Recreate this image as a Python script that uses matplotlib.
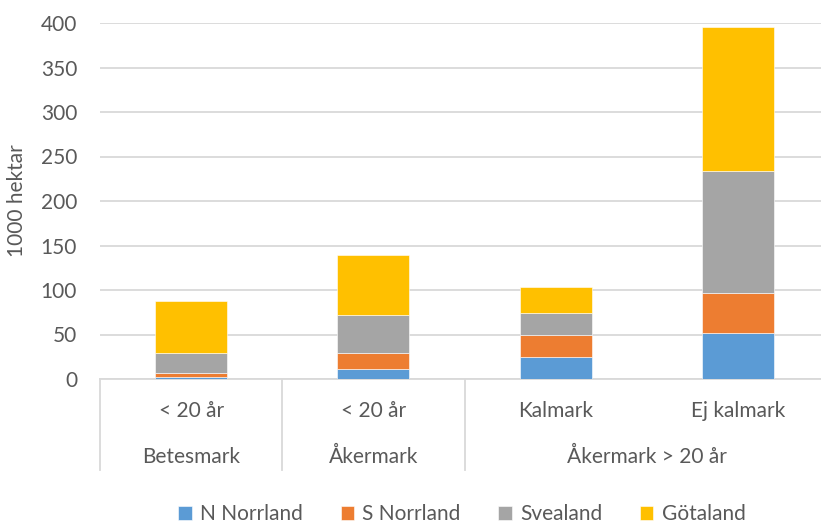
import matplotlib.pyplot as plt
import matplotlib.transforms as mtransforms
import numpy as np

plt.rcParams['font.family'] = ['Lato', 'DejaVu Sans']

# Categories (inner level / outer level)
inner_labels = ['< 20 år', '< 20 år', 'Kalmark', 'Ej kalmark']
outer_groups = [('Betesmark', 0, 0), ('Åkermark', 1, 1), ('Åkermark > 20 år', 2, 3)]

# Stacked values, 1000 hektar
n_norrland = [2.5, 11.5, 24.5, 51.5]
s_norrland = [4.5, 18.0, 25.0, 45.0]
svealand = [22.0, 42.5, 25.0, 137.0]
gotaland = [58.5, 67.5, 29.0, 162.0]

series = [('N Norrland', n_norrland, '#5B9BD5'),
          ('S Norrland', s_norrland, '#ED7D31'),
          ('Svealand', svealand, '#A5A5A5'),
          ('Götaland', gotaland, '#FFC000')]

text_color = '#595959'
grid_color = '#D9D9D9'
fs = 15

fig = plt.figure(figsize=(8.21, 5.23), dpi=100)
W, H = 821, 523
ax = fig.add_axes([100 / W, (H - 379) / H, 729 / W, 356 / H])

x = np.arange(len(inner_labels))
bottom = np.zeros(len(x))
for name, vals, color in series:
    ax.bar(x, vals, width=0.395, bottom=bottom, color=color, label=name,
           edgecolor='white', linewidth=0.4, zorder=3)
    bottom += np.array(vals)

ax.set_xlim(-0.5, len(x) - 0.5)
ax.set_ylim(0, 400)
ax.set_yticks(np.arange(0, 401, 50))
ax.yaxis.grid(True, color=grid_color, linewidth=1.3, zorder=0)
ax.tick_params(axis='y', length=0, pad=16.5, labelsize=fs, labelcolor=text_color)
ax.tick_params(axis='x', length=0, labelbottom=False)
for side in ['top', 'right', 'left']:
    ax.spines[side].set_visible(False)
ax.spines['bottom'].set_color(grid_color)
ax.spines['bottom'].set_linewidth(1.3)

ax.set_ylabel('1000 hektar', fontsize=fs, color=text_color)
ax.yaxis.set_label_coords(-0.1, 0.5)

# multi-level category axis
trans = mtransforms.blended_transform_factory(ax.transData, ax.transAxes)
for i, lab in enumerate(inner_labels):
    ax.text(i, -0.089, lab, transform=trans, ha='center', va='center',
            fontsize=fs, color=text_color)
for name, a, b in outer_groups:
    ax.text((a + b) / 2, -0.218, name, transform=trans, ha='center', va='center',
            fontsize=fs, color=text_color)
for xd in [-0.5, 0.5, 1.5]:
    ax.plot([xd, xd], [0, -0.256], transform=trans, color=grid_color,
            linewidth=1.3, clip_on=False)

fig.legend(loc='center', bbox_to_anchor=(462 / W, (H - 514) / H), ncol=4,
           frameon=False, fontsize=fs, handlelength=0.65, handleheight=0.65,
           handletextpad=0.4, columnspacing=1.8, labelcolor=text_color)

fig.savefig('out.png', dpi=100)
